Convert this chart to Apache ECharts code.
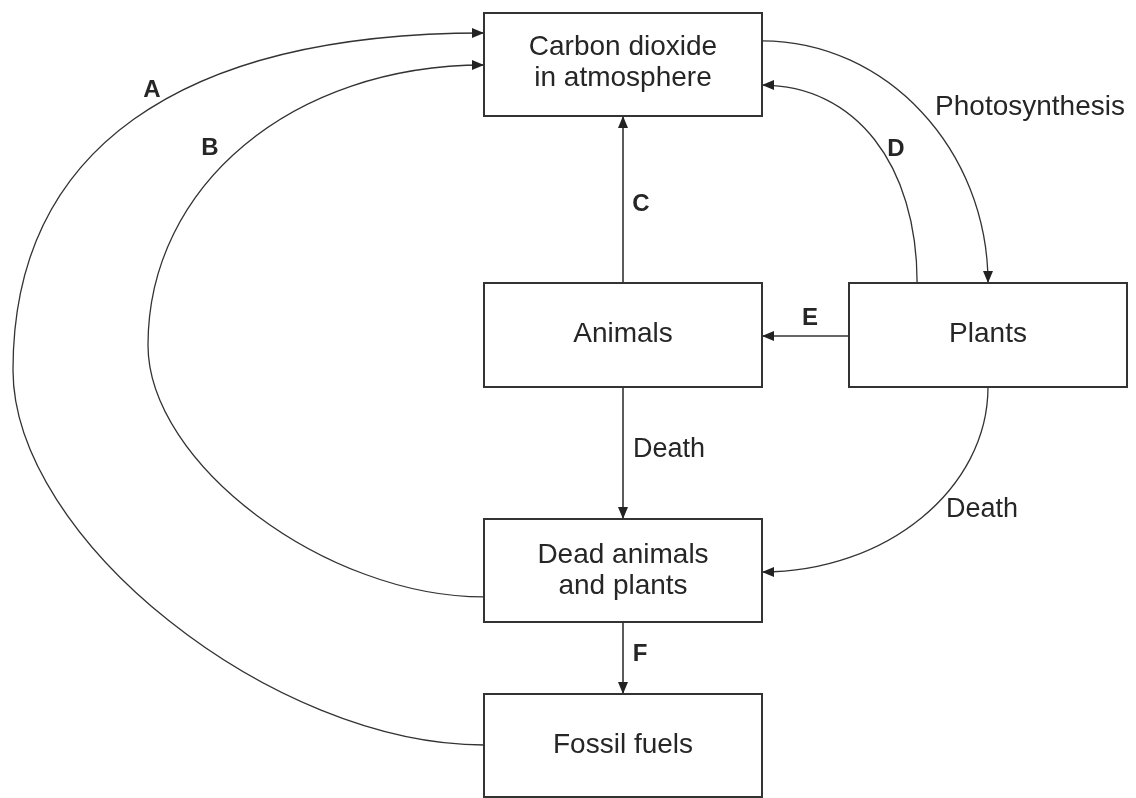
<!DOCTYPE html>
<html><head><meta charset="utf-8">
<script src="https://cdn.jsdelivr.net/npm/echarts@6/dist/echarts.min.js"></script>
<style>html,body{margin:0;padding:0;background:#fff;overflow:hidden}#c{width:1136px;height:798px}</style>
</head><body><div id="c"></div>
<script>
// ---------------- data ----------------
const nodeIds    = ['co2', 'animals', 'plants', 'dead', 'fossil'];
const nodeLabels = ['Carbon dioxide\nin atmosphere', 'Animals', 'Plants', 'Dead animals\nand plants', 'Fossil fuels'];

const linkIds     = ['A', 'B', 'C', 'D', 'E', 'F', 'photo', 'death1', 'death2'];
const linkSources = ['fossil', 'dead', 'animals', 'plants', 'plants', 'dead', 'co2', 'animals', 'plants'];
const linkTargets = ['co2', 'co2', 'co2', 'co2', 'animals', 'fossil', 'plants', 'dead', 'dead'];
const linkLabels  = ['A', 'B', 'C', 'D', 'E', 'F', 'Photosynthesis', 'Death', 'Death'];

// ---------------- layout (diagram units) ----------------
const boxLayout = {
  co2:     { x: 484, y: 13,  w: 278, h: 103, ty: 63 },
  animals: { x: 484, y: 283, w: 278, h: 104, ty: 334 },
  plants:  { x: 849, y: 283, w: 278, h: 104, ty: 334 },
  dead:    { x: 484, y: 519, w: 278, h: 103, ty: 571 },
  fossil:  { x: 484, y: 694, w: 278, h: 103, ty: 745 }
};
// anchors: [side, fraction along side]; via: waypoints with travel direction; k: control factor per segment
const linkRoutes = {
  A:      { from: ['left', 0.495], to: ['left', 0.194], via: [[13, 370, 'up']],  k: [0.45, 0.65], label: [152, 90],   fs: 24, lw: 1.3 },
  B:      { from: ['left', 0.757], to: ['left', 0.505], via: [[148, 345, 'up']], k: [0.47, 0.57], label: [210, 148],  fs: 24, lw: 1.3 },
  C:      { from: ['top', 0.5],    to: ['bottom', 0.5], via: [], k: [0.33], label: [641, 204],  fs: 24, lw: 1.6 },
  D:      { from: ['top', 0.245],  to: ['right', 0.70], via: [], k: [0.60], label: [896, 149],  fs: 24, lw: 1.3 },
  E:      { from: ['left', 0.51],  to: ['right', 0.51], via: [], k: [0.33], label: [810, 318],  fs: 24, lw: 1.6 },
  F:      { from: ['bottom', 0.5], to: ['top', 0.5],    via: [], k: [0.33], label: [640, 654],  fs: 24, lw: 1.6 },
  photo:  { from: ['right', 0.27], to: ['top', 0.5],    via: [], k: [0.55], label: [1030, 107], fs: 28, lw: 1.3 },
  death1: { from: ['bottom', 0.5], to: ['top', 0.5],    via: [], k: [0.33], label: [669, 450],  fs: 27, lw: 1.6 },
  death2: { from: ['bottom', 0.5], to: ['right', 0.515], via: [], k: [0.55], label: [982, 510], fs: 27, lw: 1.3 }
};

// ---------------- helpers ----------------
const FONT = '"Liberation Sans", Arial, Helvetica, sans-serif';
const INK = '#262626';
const outward = { left: [-1, 0], right: [1, 0], top: [0, -1], bottom: [0, 1] };
const dirs = { up: [0, -1], down: [0, 1], left: [-1, 0], right: [1, 0] };

function anchor(id, side, f) {
  const b = boxLayout[id];
  if (side === 'left')   return [b.x, b.y + b.h * f];
  if (side === 'right')  return [b.x + b.w, b.y + b.h * f];
  if (side === 'top')    return [b.x + b.w * f, b.y];
  return [b.x + b.w * f, b.y + b.h];
}

function linkPoints(i) {
  const r = linkRoutes[linkIds[i]];
  const p0 = anchor(linkSources[i], r.from[0], r.from[1]);
  const pN = anchor(linkTargets[i], r.to[0], r.to[1]);
  const o = outward[r.to[0]];
  const pts = [{ p: p0, t: outward[r.from[0]] }];
  r.via.forEach(v => pts.push({ p: [v[0], v[1]], t: dirs[v[2]] }));
  pts.push({ p: pN, t: [-o[0], -o[1]] });
  return pts;
}

// ---------------- chart ----------------
const chart = echarts.init(document.getElementById('c'), null, { renderer: 'canvas' });

const option = {
  animation: false,
  backgroundColor: '#ffffff',
  grid: { left: 0, right: 0, top: 0, bottom: 0, containLabel: false },
  xAxis: { type: 'value', min: 0, max: 1136, show: false },
  yAxis: { type: 'value', min: 0, max: 798, inverse: true, show: false },
  series: [
    {
      type: 'custom',
      name: 'links',
      coordinateSystem: 'cartesian2d',
      silent: true,
      data: linkIds.map((id, i) => [i, 0]),
      renderItem: function (params, api) {
        const i = params.dataIndex;
        const r = linkRoutes[linkIds[i]];
        const pts = linkPoints(i);
        const children = [];
        for (let s = 0; s < pts.length - 1; s++) {
          const a = pts[s], b = pts[s + 1];
          const dx = b.p[0] - a.p[0], dy = b.p[1] - a.p[1];
          const k = r.k[s];
          const da = Math.abs(dx * a.t[0] + dy * a.t[1]);
          const db = Math.abs(dx * b.t[0] + dy * b.t[1]);
          const c1 = [a.p[0] + a.t[0] * k * da, a.p[1] + a.t[1] * k * da];
          const c2 = [b.p[0] - b.t[0] * k * db, b.p[1] - b.t[1] * k * db];
          const P0 = api.coord(a.p), P1 = api.coord(c1), P2 = api.coord(c2), P3 = api.coord(b.p);
          children.push({
            type: 'bezierCurve',
            shape: { x1: P0[0], y1: P0[1], cpx1: P1[0], cpy1: P1[1], cpx2: P2[0], cpy2: P2[1], x2: P3[0], y2: P3[1] },
            style: { stroke: '#333', lineWidth: r.lw, fill: null }
          });
        }
        // arrowhead
        const end = pts[pts.length - 1];
        const L = 12, W = 10;
        const t = end.t, n = [-t[1], t[0]];
        const base = [end.p[0] - t[0] * L, end.p[1] - t[1] * L];
        const tri = [end.p,
          [base[0] + n[0] * W / 2, base[1] + n[1] * W / 2],
          [base[0] - n[0] * W / 2, base[1] - n[1] * W / 2]].map(q => api.coord(q));
        children.push({ type: 'polygon', shape: { points: tri }, style: { fill: '#222', stroke: null } });
        // label
        const lbl = linkLabels[i];
        const isLetter = lbl.length === 1;
        const lp = api.coord(r.label);
        children.push({
          type: 'text', x: lp[0], y: lp[1],
          style: {
            text: lbl, fill: INK, align: 'center', verticalAlign: 'middle',
            fontFamily: FONT, fontSize: r.fs, fontWeight: isLetter ? 'bold' : 'normal'
          }
        });
        return { type: 'group', children: children };
      }
    },
    {
      type: 'custom',
      name: 'boxes',
      coordinateSystem: 'cartesian2d',
      silent: true,
      data: nodeIds.map((id, i) => [i, 0]),
      renderItem: function (params, api) {
        const i = params.dataIndex;
        const b = boxLayout[nodeIds[i]];
        const tl = api.coord([b.x, b.y]);
        const br = api.coord([b.x + b.w, b.y + b.h]);
        const tc = api.coord([b.x + b.w / 2, b.ty]);
        return {
          type: 'group',
          children: [
            {
              type: 'rect',
              shape: { x: tl[0], y: tl[1], width: br[0] - tl[0], height: br[1] - tl[1] },
              style: { fill: '#fff', stroke: '#333', lineWidth: 2 }
            },
            {
              type: 'text', x: tc[0], y: tc[1],
              style: {
                text: nodeLabels[i], fill: INK, align: 'center', verticalAlign: 'middle',
                fontFamily: FONT, fontSize: 28, lineHeight: 31
              }
            }
          ]
        };
      }
    }
  ]
};
chart.setOption(option);
</script>
</body></html>
